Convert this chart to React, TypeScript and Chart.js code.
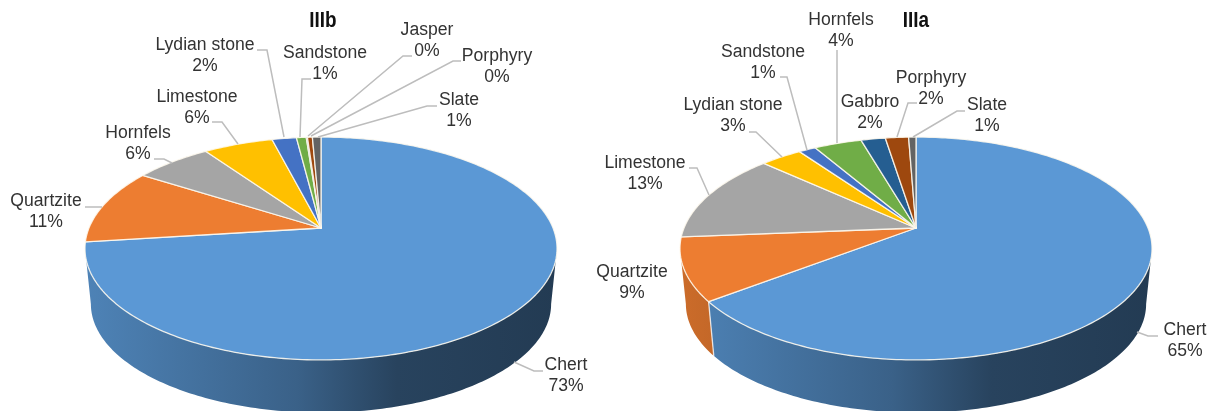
import React, { useEffect, useRef } from "react";
import { Chart, registerables, PieController } from "chart.js";

// Phase IIIb lithic raw materials (percent)
const iiibCategories = ["Chert", "Quartzite", "Hornfels", "Limestone", "Lydian stone", "Sandstone", "Jasper", "Porphyry", "Slate"];
const iiibValues = [73.0, 11.0, 6.3, 5.7, 2.0, 0.8, 0.1, 0.4, 0.7];

// Phase IIIa lithic raw materials (percent)
const iiiaCategories = ["Chert", "Quartzite", "Limestone", "Lydian stone", "Sandstone", "Hornfels", "Gabbro", "Porphyry", "Slate"];
const iiiaValues = [64.6, 9.1, 13.1, 3.4, 1.4, 3.9, 2.0, 1.9, 0.6];

const sliceColors = ["#5B98D5", "#ED7D31", "#A5A5A5", "#FFC000", "#4472C4", "#70AD47", "#255E91", "#9E480E", "#636363"];

type Pt = [number, number];
type Caption = { at: Pt; leader?: Pt[] };

// Caption centres and leader polylines, in page pixels, one per slice
const iiibCaptions: Caption[] = [
  { at: [566, 365], leader: [[543, 371], [534, 371], [514, 362]] },
  { at: [46, 201], leader: [[85, 207], [102, 207]] },
  { at: [138, 133], leader: [[154, 159], [164, 159], [172, 163]] },
  { at: [197, 97], leader: [[212, 122], [222, 122], [238, 144]] },
  { at: [205, 45], leader: [[257, 50], [267, 50], [284, 137]] },
  { at: [325, 53], leader: [[311, 79], [302, 79], [300, 137]] },
  { at: [427, 30], leader: [[412, 56], [403, 56], [308, 136]] },
  { at: [497, 56], leader: [[461, 61], [453, 61], [311, 136]] },
  { at: [459, 100], leader: [[437, 106], [427, 106], [318, 137]] },
];
const iiiaCaptions: Caption[] = [
  { at: [1185, 330], leader: [[1158, 336], [1148, 336], [1137, 332]] },
  { at: [632, 272] },
  { at: [645, 163], leader: [[689, 168], [697, 168], [709, 195]] },
  { at: [733, 105], leader: [[749, 132], [756, 132], [782, 157]] },
  { at: [763, 52], leader: [[780, 77], [787, 77], [807, 150]] },
  { at: [841, 20], leader: [[837, 50], [837, 143]] },
  { at: [870, 102] },
  { at: [931, 78], leader: [[917, 103], [908, 103], [897, 137]] },
  { at: [987, 105], leader: [[965, 111], [957, 111], [913, 137]] },
];

// Projection of the pie's disc onto the page
const TILT = 0.464;
const FORESHORTEN = 0.184;
const FLOOR_SCALE = 0.975;
const FLOOR_DROP = 56;
const HIDDEN_EDGE = Math.asin(FORESHORTEN);

const WALL_SHADES: [number, number][] = [[0, 0.86], [0.45, 0.64], [0.66, 0.44], [1, 0.39]];

function shade(hex: string, f: number) {
  const n = parseInt(hex.slice(1), 16);
  const c = [(n >> 16) & 255, (n >> 8) & 255, n & 255].map((v) => Math.round(v * f));
  return `rgb(${c[0]},${c[1]},${c[2]})`;
}

// Pie whose arcs are laid out by the stock controller but painted as a tilted disc with a side wall
class TiltedPieController extends PieController {
  static id = "tiltedPie";

  project(arc: any, angle: number, scale = 1, drop = 0): Pt {
    const u = Math.cos(angle);
    const v = Math.sin(angle);
    const w = 1 - FORESHORTEN * v;
    return [arc.x + (scale * arc.outerRadius * u) / w, arc.y + drop + (scale * arc.outerRadius * TILT * v) / w];
  }

  draw() {
    const ctx = this.chart.ctx;
    const arcs: any[] = this.getMeta().data as any[];
    ctx.save();
    ctx.lineJoin = "round";

    // Side wall: only the front part of the rim is visible
    for (const arc of arcs) {
      for (const turn of [0, Math.PI * 2]) {
        const a = Math.max(arc.startAngle + turn, HIDDEN_EDGE);
        const b = Math.min(arc.endAngle + turn, Math.PI - HIDDEN_EDGE);
        if (b <= a) continue;
        const steps = Math.max(2, Math.ceil((b - a) * 60));
        const left = arc.x - arc.outerRadius * 1.02;
        const g = ctx.createLinearGradient(left, 0, left + arc.outerRadius * 2.04, 0);
        for (const [stop, f] of WALL_SHADES) g.addColorStop(stop, shade(arc.options.backgroundColor, f));
        ctx.beginPath();
        for (let i = 0; i <= steps; i++) {
          const p = this.project(arc, a + ((b - a) * i) / steps);
          i ? ctx.lineTo(p[0], p[1]) : ctx.moveTo(p[0], p[1]);
        }
        for (let i = steps; i >= 0; i--) {
          const p = this.project(arc, a + ((b - a) * i) / steps, FLOOR_SCALE, FLOOR_DROP);
          ctx.lineTo(p[0], p[1]);
        }
        ctx.closePath();
        ctx.fillStyle = g;
        ctx.fill();
        // Seam between neighbouring slices on the wall
        if (a > HIDDEN_EDGE) {
          const top = this.project(arc, a);
          const bottom = this.project(arc, a, FLOOR_SCALE, FLOOR_DROP);
          ctx.beginPath();
          ctx.moveTo(top[0], top[1]);
          ctx.lineTo(bottom[0], bottom[1]);
          ctx.strokeStyle = "rgba(255,255,255,0.75)";
          ctx.lineWidth = 1.3;
          ctx.stroke();
        }
      }
    }

    // Top face
    for (const arc of arcs) {
      const steps = Math.max(4, Math.ceil((arc.endAngle - arc.startAngle) * 60));
      ctx.beginPath();
      ctx.moveTo(arc.x, arc.y);
      for (let i = 0; i <= steps; i++) {
        const p = this.project(arc, arc.startAngle + ((arc.endAngle - arc.startAngle) * i) / steps);
        ctx.lineTo(p[0], p[1]);
      }
      ctx.closePath();
      ctx.fillStyle = arc.options.backgroundColor;
      ctx.fill();
      ctx.strokeStyle = "rgba(255,250,240,0.85)";
      ctx.lineWidth = 1.3;
      ctx.stroke();
    }
    ctx.restore();
  }
}

Chart.register(...registerables, TiltedPieController);

const LINE_HEIGHT = 21;

function captionsPlugin(names: string[], values: number[], captions: Caption[], title: string, titleX: number, offsetX: number) {
  return {
    id: "captions",
    afterDraw(chart: any) {
      const ctx = chart.ctx;
      ctx.save();
      ctx.translate(-offsetX, 0);
      ctx.textAlign = "center";
      ctx.textBaseline = "middle";
      ctx.strokeStyle = "#BDBDBD";
      ctx.lineWidth = 1.5;
      captions.forEach((c) => {
        if (!c.leader) return;
        ctx.beginPath();
        c.leader.forEach((p, i) => (i ? ctx.lineTo(p[0], p[1]) : ctx.moveTo(p[0], p[1])));
        ctx.stroke();
      });
      ctx.fillStyle = "#333333";
      ctx.font = '17.6px "Liberation Sans", Arial, sans-serif';
      captions.forEach((c, i) => {
        ctx.fillText(names[i], c.at[0], c.at[1] + 0.5);
        ctx.fillText(`${Math.round(values[i])}%`, c.at[0], c.at[1] + 0.5 + LINE_HEIGHT);
      });
      // Titles are set tall and narrow
      ctx.fillStyle = "#111111";
      ctx.font = 'bold 21.5px "Liberation Sans", Arial, sans-serif';
      ctx.translate(titleX, 21.5);
      ctx.scale(0.88, 1);
      ctx.fillText(title, 0, 0);
      ctx.restore();
    },
  };
}

function makeChart(canvas: HTMLCanvasElement, names: string[], values: number[], captions: Caption[], title: string, titleX: number, offsetX: number, padLeft: number) {
  return new Chart(canvas, {
    type: "tiltedPie" as any,
    data: {
      labels: names,
      datasets: [{ data: values, backgroundColor: sliceColors, borderWidth: 0, radius: 232, clip: false } as any],
    },
    options: {
      animation: false,
      responsive: false,
      events: [],
      layout: { padding: { left: padLeft, top: 45, right: 0, bottom: 0 } },
      plugins: { legend: { display: false }, tooltip: { enabled: false }, title: { display: false } },
    } as any,
    plugins: [captionsPlugin(names, values, captions, title, titleX, offsetX)],
  });
}

const SPLIT_X = 592;

export default function App() {
  const leftRef = useRef<HTMLCanvasElement>(null);
  const rightRef = useRef<HTMLCanvasElement>(null);

  useEffect(() => {
    const a = makeChart(leftRef.current!, iiibCategories, iiibValues, iiibCaptions, "IIIb", 323, 0, 50);
    const b = makeChart(rightRef.current!, iiiaCategories, iiiaValues, iiiaCaptions, "IIIa", 916, SPLIT_X, 28);
    return () => {
      a.destroy();
      b.destroy();
    };
  }, []);

  return (
    <div style={{ position: "fixed", left: 0, top: 0, width: 1212, height: 411, overflow: "hidden", background: "#fff" }}>
      <canvas ref={leftRef} width={SPLIT_X} height={411} style={{ position: "absolute", left: 0, top: 0 }} />
      <canvas ref={rightRef} width={1212 - SPLIT_X} height={411} style={{ position: "absolute", left: SPLIT_X, top: 0 }} />
    </div>
  );
}
